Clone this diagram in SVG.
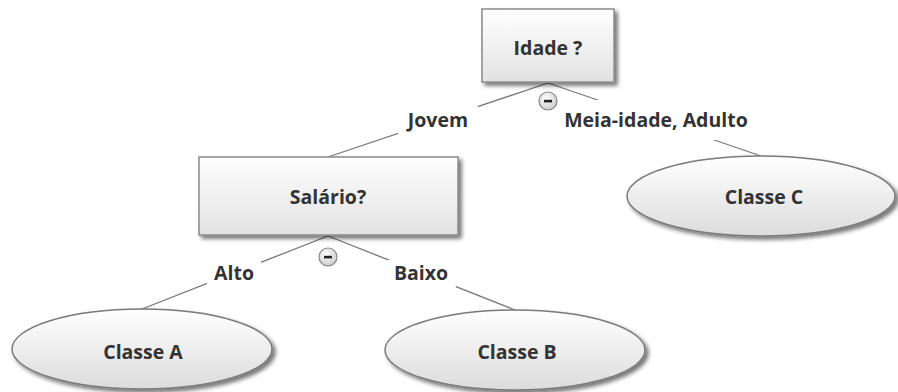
<svg xmlns="http://www.w3.org/2000/svg" width="898" height="392" viewBox="0 0 898 392">
<defs>
<linearGradient id="gBox" x1="0" y1="0" x2="0" y2="1">
<stop offset="0" stop-color="#ffffff"/>
<stop offset="1" stop-color="#e2e2e2"/>
</linearGradient>
<linearGradient id="gEll" x1="0" y1="0" x2="0" y2="1">
<stop offset="0" stop-color="#ffffff"/>
<stop offset="1" stop-color="#dcdcdc"/>
</linearGradient>
<radialGradient id="gBtn" cx="0.4" cy="0.35" r="0.7">
<stop offset="0" stop-color="#ffffff"/>
<stop offset="1" stop-color="#c8c8c8"/>
</radialGradient>
<filter id="sh" x="-10%" y="-20%" width="125%" height="150%">
<feGaussianBlur in="SourceAlpha" stdDeviation="2"/>
<feOffset dx="3" dy="3" result="b"/>
<feComponentTransfer><feFuncA type="linear" slope="0.55"/></feComponentTransfer>
<feMerge><feMergeNode/><feMergeNode in="SourceGraphic"/></feMerge>
</filter>
</defs>
<style>
.box{fill:url(#gBox);stroke:#8a8a8a;stroke-width:1.5}
.ell{fill:url(#gEll);stroke:#7a7a7a;stroke-width:1.5}
.t{font-family:"Open Sans","Noto Sans","DejaVu Sans",sans-serif;font-weight:700;font-size:19.5px;fill:#333333;text-anchor:middle}
.ln{stroke:#777;stroke-width:1.3;fill:none}
.lb{fill:#ffffff}
.btn{fill:url(#gBtn);stroke:#888;stroke-width:1.2}
.bar{fill:#222}
</style>
<rect width="898" height="392" fill="#ffffff"/>
<g id="connectors">
<line class="ln" x1="548" y1="83" x2="328" y2="157"/>
<line class="ln" x1="548" y1="83" x2="761" y2="156"/>
<line class="ln" x1="328" y1="236" x2="142" y2="309"/>
<line class="ln" x1="328" y1="236" x2="515" y2="310"/>
</g>
<g id="label-jovem">
<rect class="lb" x="398" y="106" width="80" height="28"/>
<text class="t" x="438" y="127">Jovem</text>
</g>
<g id="label-meia">
<rect class="lb" x="560" y="100" width="192" height="40"/>
<text class="t" x="656" y="127">Meia-idade, Adulto</text>
</g>
<g id="label-alto">
<rect class="lb" x="207" y="260" width="54" height="27"/>
<text class="t" x="234" y="280">Alto</text>
</g>
<g id="label-baixo">
<rect class="lb" x="386" y="260" width="70" height="27"/>
<text class="t" x="421" y="280">Baixo</text>
</g>
<g id="node-idade">
<rect class="box" x="482" y="9" width="132" height="73" filter="url(#sh)"/>
<text class="t" x="548" y="55">Idade ?</text>
<circle class="btn" cx="548" cy="101" r="9"/>
<rect class="bar" x="544" y="99.8" width="8" height="2.6"/>
</g>
<g id="node-salario">
<rect class="box" x="199" y="157" width="259" height="78" filter="url(#sh)"/>
<text class="t" x="328" y="204">Salário?</text>
<circle class="btn" cx="328" cy="257" r="9"/>
<rect class="bar" x="324" y="255.8" width="8" height="2.6"/>
</g>
<g id="node-classe-c">
<ellipse class="ell" cx="761" cy="196" rx="134" ry="40" filter="url(#sh)"/>
<text class="t" x="764" y="204">Classe C</text>
</g>
<g id="node-classe-a">
<ellipse class="ell" cx="142" cy="349" rx="130" ry="40" filter="url(#sh)"/>
<text class="t" x="143" y="359">Classe A</text>
</g>
<g id="node-classe-b">
<ellipse class="ell" cx="515" cy="350" rx="130" ry="40" filter="url(#sh)"/>
<text class="t" x="517" y="359">Classe B</text>
</g>
</svg>
